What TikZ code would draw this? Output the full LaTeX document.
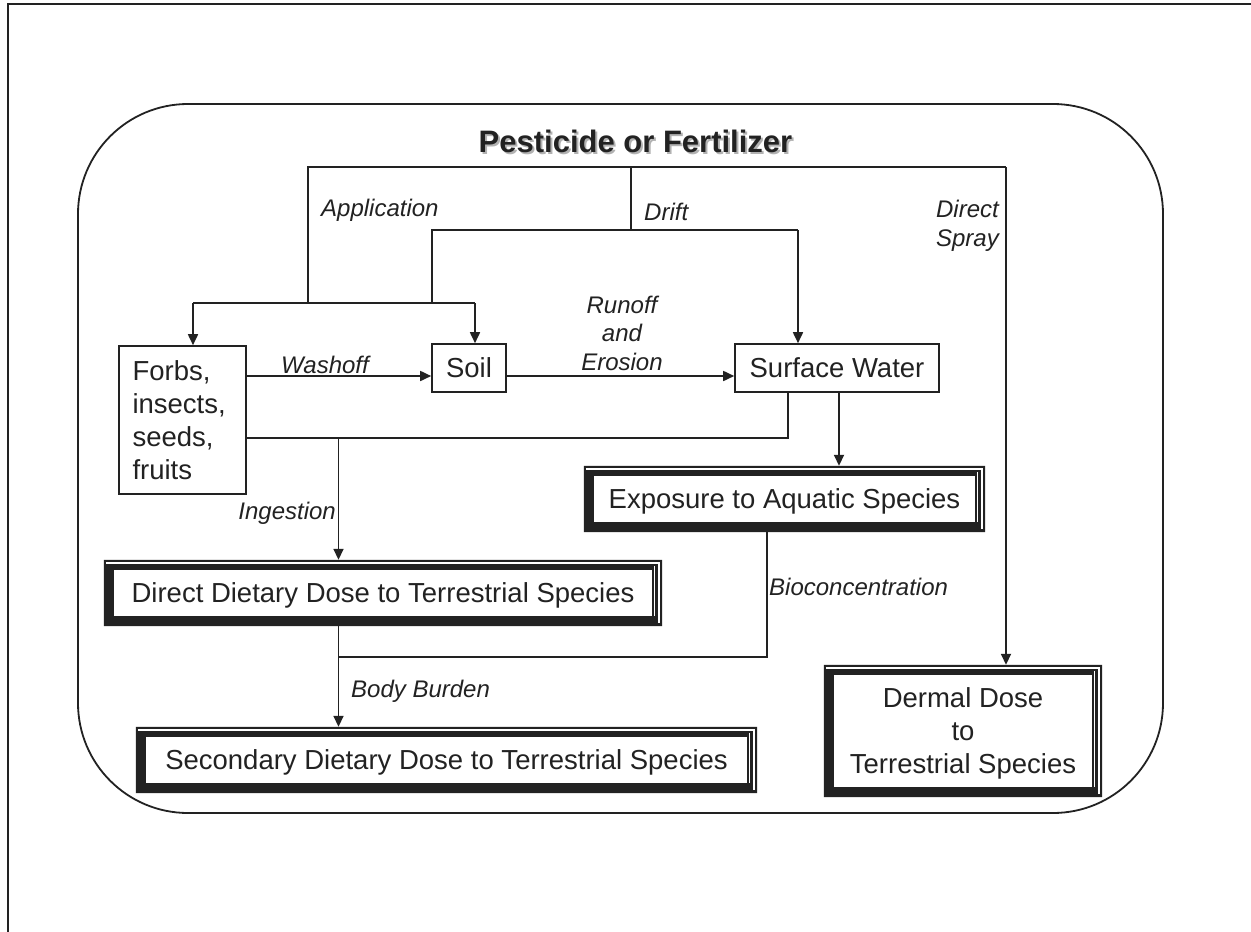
\documentclass[tikz,border=0pt]{standalone}
\usepackage{fontspec}
\setmainfont{Liberation Sans}
\usetikzlibrary{arrows.meta,calc}
\definecolor{ink}{HTML}{222222}
\tikzset{
 conn/.style={draw=ink, line width=1.7pt},
 arr/.style={conn, -{Triangle[length=11pt,width=10pt]}},
 plainbox/.style={draw=ink, line width=1.6pt, fill=white, inner sep=0pt, font=\fontsize{27.5}{33}\selectfont, text=ink},
 heavybox/.style={inner sep=0pt, font=\fontsize{27.5}{33}\selectfont, text=ink, align=center, text depth=0pt},
 lab/.style={font=\fontsize{24}{28.5}\selectfont\itshape, text=ink, inner sep=0pt},
 titlefont/.style={font=\fontsize{31}{36}\selectfont\bfseries, anchor=base, inner sep=0pt},
}
\newcommand{\heavyframe}[1]{%
 \fill[ink, even odd rule] (#1.south west) rectangle (#1.north east) ([shift={(10pt,10pt)}]#1.south west) rectangle ([shift={(-10pt,-10pt)}]#1.north east);
 \draw[white, line width=2pt] ([shift={(2pt,-3pt)}]#1.north west) -- ([shift={(-3pt,-3pt)}]#1.north east) -- ([shift={(-3pt,3pt)}]#1.south east);
 \draw[white, line width=1pt] ([shift={(-7.5pt,-6pt)}]#1.north east) -- ([shift={(-7.5pt,10pt)}]#1.south east);
 \draw[ink, line width=0.8pt] ([shift={(10pt,10pt)}]#1.south west) rectangle ([shift={(-10pt,-10pt)}]#1.north east);
}
\begin{document}
\begin{tikzpicture}[x=1pt,y=-1pt]
\useasboundingbox (0,0) rectangle (1251,932);
\fill[white] (0,0) rectangle (1251,932);
% outer frame
\draw[ink, line width=2.5pt] (8,932) -- (8,4) -- (1251,4);
\draw[ink, line width=1.8pt, rounded corners=110pt] (78,104) rectangle (1163,813);
% title
\node (titleshadow) [titlefont, text=black!30] at (637.5,154) {Pesticide or Fertilizer};
\node (title) [titlefont, text=ink] at (635.5,152) {Pesticide or Fertilizer};
% boxes
\node (forbs) [plainbox, minimum width=127pt, minimum height=148pt, text width=100pt, align=left] at (182.5,420) {Forbs,\\insects,\\seeds,\\fruits};
\node (soil) [plainbox, minimum width=74pt, minimum height=48pt] at (469,368) {Soil};
\node (sw) [plainbox, minimum width=204pt, minimum height=48pt] at (837,368) {Surface Water};
\node (expo) [heavybox, minimum width=401pt, minimum height=66pt] at (784.5,499) {Exposure to Aquatic Species};
\heavyframe{expo}
\node (direct) [heavybox, minimum width=558pt, minimum height=66pt] at (383,593) {Direct Dietary Dose to Terrestrial Species};
\heavyframe{direct}
\node (second) [heavybox, minimum width=621pt, minimum height=66pt] at (446.5,760) {Secondary Dietary Dose to Terrestrial Species};
\heavyframe{second}
\node (dermal) [heavybox, minimum width=278pt, minimum height=132pt] at (963,731) {Dermal Dose\\to\\Terrestrial Species};
\heavyframe{dermal}
% junction coordinates
\coordinate (jA) at (308,167);
\coordinate (jD) at (1006,167);
\coordinate (jB) at (308,303);
\coordinate (jF) at (193,303);
\coordinate (jS) at (475,303);
\coordinate (jR) at (631,167);
\coordinate (jR2) at (631,230);
\coordinate (jL) at (432,230);
\coordinate (jL2) at (432,303);
\coordinate (jW) at (798,230);
\coordinate (wy) at (0,376);
\coordinate (iy) at (0,438);
\coordinate (jSW) at (788,438);
\coordinate (jI) at (338.5,438);
\coordinate (xE) at (839,0);
\coordinate (jBio) at (767,657);
\coordinate (jBB) at (338.5,657);
% connectors
\draw[conn] (jB) -- (jA) -- (jD);
\draw[arr] (jD) -- (jD |- dermal.north);
\draw[conn] (jF) -- (jS);
\draw[arr] (jF) -- (jF |- forbs.north);
\draw[arr] (jS) -- (jS |- soil.north);
\draw[conn] (jR) -- (jR2);
\draw[conn] (jL2) -- (jL) -- (jW);
\draw[arr] (jW) -- (jW |- sw.north);
\draw[arr] (forbs.east |- wy) -- (soil.west |- wy);
\draw[arr] (soil.east |- wy) -- (sw.west |- wy);
\draw[conn] (forbs.east |- iy) -- (jSW) -- (jSW |- sw.south);
\draw[arr] (jI) -- (jI |- direct.north);
\draw[arr] (xE |- sw.south) -- (xE |- expo.north);
\draw[conn] (jBio |- expo.south) -- (jBio) -- (jBB);
\draw[arr] (jBB |- direct.south) -- (jBB |- second.north);
% labels
\node (lapp) [lab, anchor=west] at (321,210) {Application};
\node (ldrift) [lab, anchor=west] at (644,212) {Drift};
\node (lspray) [lab, anchor=east, align=right] at (999,226) {Direct\\Spray};
\node (lrun) [lab, align=center] at (622,333) {Runoff\\and\\Erosion};
\node (lwash) [lab] at (325,365) {Washoff};
\node (ling) [lab, anchor=east] at (336,513) {Ingestion};
\node (lbio) [lab, anchor=west] at (769,587) {Bioconcentration};
\node (lbody) [lab, anchor=west] at (351,691) {Body Burden};
\end{tikzpicture}
\end{document}
